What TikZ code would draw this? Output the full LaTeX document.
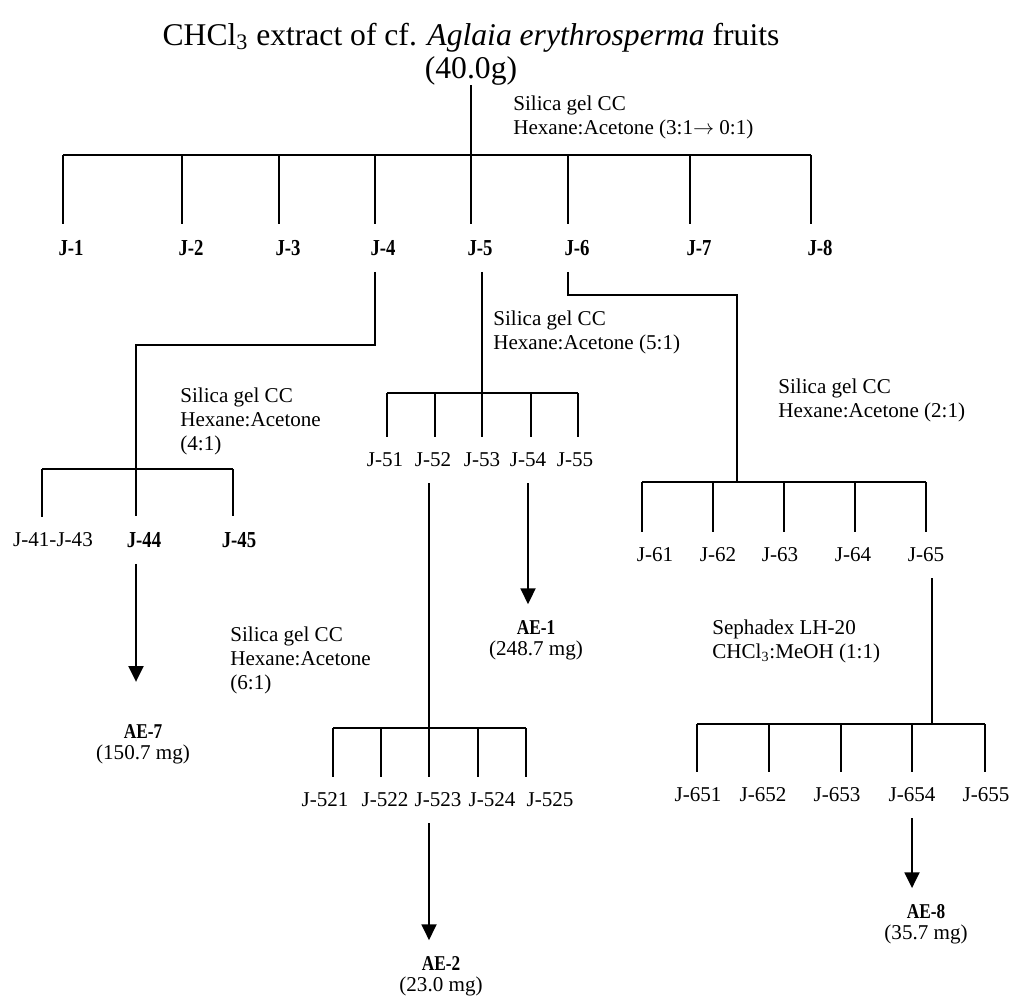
\documentclass[tikz,border=0pt]{standalone}
\usepackage{fontspec}
\setmainfont{Liberation Serif}
\newfontfamily\narrowfont[FakeStretch=0.82]{Liberation Serif}
\usetikzlibrary{arrows.meta}

\begin{document}
\begin{tikzpicture}[
  x=0.02cm, y=-0.02cm,
  title/.style={font=\fontsize{18}{18.7}\selectfont, align=center,
                inner sep=0pt, anchor=base},
  frac/.style={font=\fontsize{12}{14}\selectfont, inner xsep=1pt, inner ysep=9pt},
  topfrac/.style={frac, font=\fontsize{13}{15}\narrowfont\bfseries},
  cond/.style={font=\fontsize{12}{13.6}\selectfont, align=left,
               anchor=base west, inner sep=0pt},
  prod/.style={font=\fontsize{12}{11.8}\selectfont, align=center,
               anchor=base, inner ysep=9pt},
  line/.style={line width=1.2pt},
  arr/.style={line width=1.2pt, -{Triangle[length=9pt, width=8.5pt]}}
]
\useasboundingbox (0,0) rectangle (1013,1001);

\node[title] (extract) at (471,78)
    {CHCl\textsubscript{3} extract of cf. \textit{Aglaia erythrosperma} fruits\\(40.0g)};

% first column
\coordinate (t1) at (63,155);
\coordinate (t2) at (182,155);
\coordinate (t3) at (279,155);
\coordinate (t4) at (375,155);
\coordinate (t5) at (471,155);
\coordinate (t6) at (568,155);
\coordinate (t7) at (690,155);
\coordinate (t8) at (811,155);

\node[topfrac] (J1) at (71,248)  {J-1};
\node[topfrac] (J2) at (191,248) {J-2};
\node[topfrac] (J3) at (288,248) {J-3};
\node[topfrac] (J4) at (383,248) {J-4};
\node[topfrac] (J5) at (480,248) {J-5};
\node[topfrac] (J6) at (577,248) {J-6};
\node[topfrac] (J7) at (699,248) {J-7};
\node[topfrac] (J8) at (820,248) {J-8};

\node[cond] (c1) at (513,134) {Silica gel CC\\Hexane:Acetone (3:1$\rightarrow$ 0:1)};

\draw[line] (extract.south) -- (t5 |- J5.north);
\draw[line] (t1) -- (t8);
\draw[line] (t1) -- (t1 |- J1.north);
\draw[line] (t2) -- (t2 |- J2.north);
\draw[line] (t3) -- (t3 |- J3.north);
\draw[line] (t4) -- (t4 |- J4.north);
\draw[line] (t6) -- (t6 |- J6.north);
\draw[line] (t7) -- (t7 |- J7.north);
\draw[line] (t8) -- (t8 |- J8.north);

% J-4
\coordinate (k4)  at (375,345);
\coordinate (t41) at (42,469);
\coordinate (t44) at (136,469);
\coordinate (t45) at (233,469);

\node[frac]    (J41) at (53,540)  {J-41-J-43};
\node[topfrac] (J44) at (144,540) {J-44};
\node[topfrac] (J45) at (239,540) {J-45};
\node[cond] (c4) at (180,450) {Silica gel CC\\Hexane:Acetone\\(4:1)};
\node[prod] (ae7) at (143,759)
    {{\fontsize{12}{11.8}\narrowfont\bfseries AE-7}\\(150.7 mg)};

\draw[line] (t4 |- J4.south) -- (k4) -| (t44 |- J44.north);
\draw[line] (t41) -- (t45);
\draw[line] (t41) -- (t41 |- J41.north);
\draw[line] (t45) -- (t45 |- J45.north);
\draw[arr, shorten >=15pt] (t44 |- J44.south) -- (t44 |- ae7.north);

% J-5
\coordinate (t51) at (387,393);
\coordinate (t52) at (435,393);
\coordinate (t53) at (482,393);
\coordinate (t54) at (531,393);
\coordinate (t55) at (578,393);

\node[frac] (J51) at (385,460) {J-51};
\node[frac] (J52) at (433,460) {J-52};
\node[frac] (J53) at (482,460) {J-53};
\node[frac] (J54) at (528,460) {J-54};
\node[frac] (J55) at (575,460) {J-55};
\node[cond] (c5) at (493,349) {Silica gel CC\\Hexane:Acetone (5:1)};
\node[prod] (ae1) at (536,655)
    {{\fontsize{12}{11.8}\narrowfont\bfseries AE-1}\\(248.7 mg)};

\draw[line] (t53 |- J5.south) -- (t53 |- J53.north);
\draw[line] (t51) -- (t55);
\draw[line] (t51) -- (t51 |- J51.north);
\draw[line] (t52) -- (t52 |- J52.north);
\draw[line] (t54) -- (t54 |- J54.north);
\draw[line] (t55) -- (t55 |- J55.north);
\draw[arr] (J54.south) -- (J54.south |- ae1.north);

% J-52
\coordinate (t521) at (333,728);
\coordinate (t522) at (381,728);
\coordinate (t523) at (429,728);
\coordinate (t524) at (478,728);
\coordinate (t525) at (526,728);

\node[frac] (J521) at (325,800) {J-521};
\node[frac] (J522) at (385,800) {J-522};
\node[frac] (J523) at (438,800) {J-523};
\node[frac] (J524) at (492,800) {J-524};
\node[frac] (J525) at (550,800) {J-525};
\node[cond] (c52) at (230,689) {Silica gel CC\\Hexane:Acetone\\(6:1)};
\node[prod] (ae2) at (441,991)
    {{\fontsize{12}{11.8}\narrowfont\bfseries AE-2}\\(23.0 mg)};

\draw[line] (t523 |- J52.south) -- (t523 |- J523.north);
\draw[line] (t521) -- (t525);
\draw[line] (t521) -- (t521 |- J521.north);
\draw[line] (t522) -- (t522 |- J522.north);
\draw[line] (t524) -- (t524 |- J524.north);
\draw[line] (t525) -- (t525 |- J525.north);
\draw[arr] (t523 |- J523.south) -- (t523 |- ae2.north);

% J-6
\coordinate (k6)  at (568,295);
\coordinate (j6)  at (737,482);
\coordinate (t61) at (642,482);
\coordinate (t62) at (713,482);
\coordinate (t63) at (784,482);
\coordinate (t64) at (855,482);
\coordinate (t65) at (926,482);

\node[frac] (J61) at (655,555) {J-61};
\node[frac] (J62) at (718,555) {J-62};
\node[frac] (J63) at (780,555) {J-63};
\node[frac] (J64) at (853,555) {J-64};
\node[frac] (J65) at (926,555) {J-65};
\node[cond] (c6) at (778,417) {Silica gel CC\\Hexane:Acetone (2:1)};

\draw[line] (t6 |- J6.south) -- (k6) -| (j6);
\draw[line] (t61) -- (t65);
\draw[line] (t61) -- (t61 |- J61.north);
\draw[line] (t62) -- (t62 |- J62.north);
\draw[line] (t63) -- (t63 |- J63.north);
\draw[line] (t64) -- (t64 |- J64.north);
\draw[line] (t65) -- (t65 |- J65.north);

% J-65
\coordinate (j65)  at (932,724);
\coordinate (t651) at (697,724);
\coordinate (t652) at (769,724);
\coordinate (t653) at (841,724);
\coordinate (t654) at (912,724);
\coordinate (t655) at (985,724);

\node[frac] (J651) at (698,795) {J-651};
\node[frac] (J652) at (763,795) {J-652};
\node[frac] (J653) at (837,795) {J-653};
\node[frac] (J654) at (912,795) {J-654};
\node[frac] (J655) at (986,795) {J-655};
\node[cond] (c65) at (712,658) {Sephadex LH-20\\CHCl\textsubscript{3}:MeOH (1:1)};
\node[prod] (ae8) at (926,939)
    {{\fontsize{12}{11.8}\narrowfont\bfseries AE-8}\\(35.7 mg)};

\draw[line] (j65 |- J65.south) -- (j65);
\draw[line] (t651) -- (t655);
\draw[line] (t651) -- (t651 |- J651.north);
\draw[line] (t652) -- (t652 |- J652.north);
\draw[line] (t653) -- (t653 |- J653.north);
\draw[line] (t654) -- (t654 |- J654.north);
\draw[line] (t655) -- (t655 |- J655.north);
\draw[arr] (t654 |- J654.south) -- (t654 |- ae8.north);

\end{tikzpicture}
\end{document}
